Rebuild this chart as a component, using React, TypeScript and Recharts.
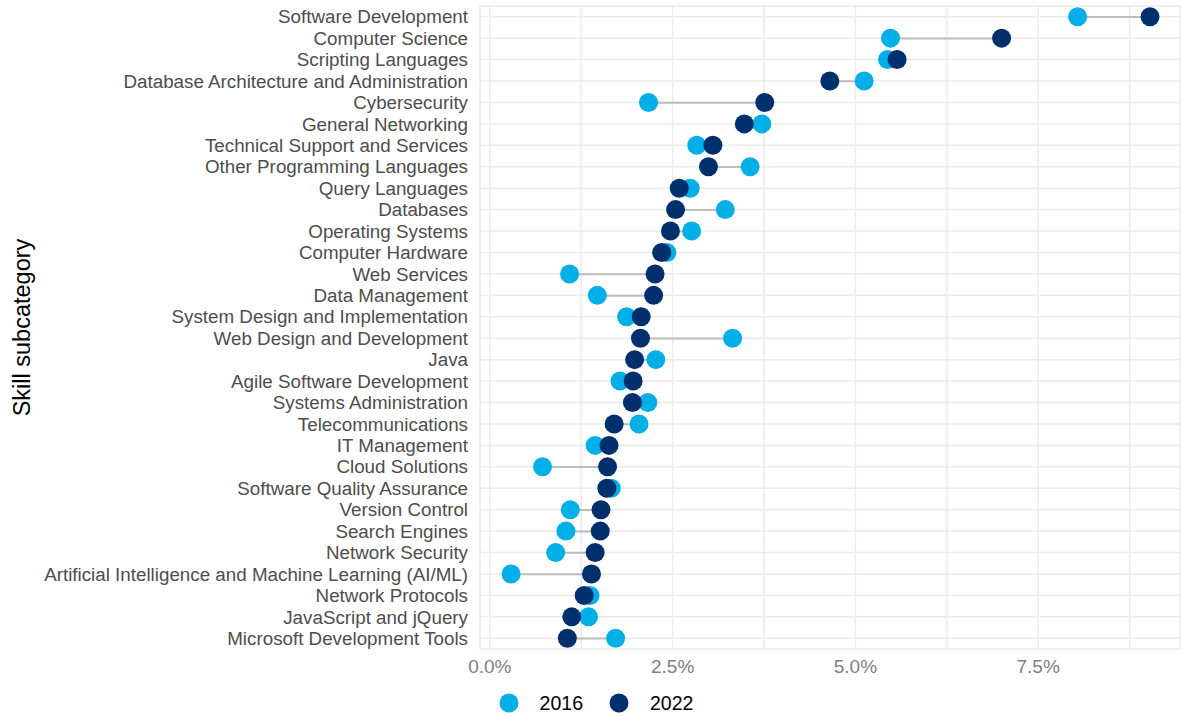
import {
  ComposedChart,
  Bar,
  Line,
  XAxis,
  YAxis,
  CartesianGrid,
  Legend,
} from 'recharts'

const skills = [
  'Software Development',
  'Computer Science',
  'Scripting Languages',
  'Database Architecture and Administration',
  'Cybersecurity',
  'General Networking',
  'Technical Support and Services',
  'Other Programming Languages',
  'Query Languages',
  'Databases',
  'Operating Systems',
  'Computer Hardware',
  'Web Services',
  'Data Management',
  'System Design and Implementation',
  'Web Design and Development',
  'Java',
  'Agile Software Development',
  'Systems Administration',
  'Telecommunications',
  'IT Management',
  'Cloud Solutions',
  'Software Quality Assurance',
  'Version Control',
  'Search Engines',
  'Network Security',
  'Artificial Intelligence and Machine Learning (AI/ML)',
  'Network Protocols',
  'JavaScript and jQuery',
  'Microsoft Development Tools',
]

// share of postings, in percent
const share2016 = [
  8.04, 5.48, 5.44, 5.12, 2.17, 3.72, 2.83, 3.56, 2.74, 3.22,
  2.76, 2.42, 1.09, 1.47, 1.87, 3.32, 2.27, 1.78, 2.16, 2.04,
  1.44, 0.72, 1.66, 1.1, 1.04, 0.9, 0.29, 1.37, 1.35, 1.72,
]

const share2022 = [
  9.03, 7.0, 5.57, 4.65, 3.76, 3.48, 3.05, 2.99, 2.59, 2.54,
  2.47, 2.35, 2.26, 2.24, 2.07, 2.06, 1.98, 1.96, 1.95, 1.7,
  1.63, 1.61, 1.6, 1.52, 1.51, 1.44, 1.39, 1.29, 1.12, 1.06,
]

const xTicks = [0, 1.25, 2.5, 3.75, 5, 6.25, 7.5, 8.75]

const years = ['2016', '2022']
const colors = ['#00aee8', '#002f6e']

const data = skills.map((name, i) => ({
  name,
  y2016: share2016[i],
  y2022: share2022[i],
  range: [
    Math.min(share2016[i], share2022[i]),
    Math.max(share2016[i], share2022[i]),
  ],
}))

function YearLegend() {
  return (
    <div
      style={{
        display: 'flex',
        justifyContent: 'center',
        gap: 26,
        height: 24,
        alignItems: 'center',
        paddingLeft: 12,
      }}
    >
      {years.map((y, i) => (
        <div key={y} style={{ display: 'flex', alignItems: 'center' }}>
          <svg width={20} height={20}>
            <circle cx={10} cy={10} r={9.5} fill={colors[i]} />
          </svg>
          <span style={{ marginLeft: 21, fontSize: 19.5, color: '#000', lineHeight: '24px' }}>{y}</span>
        </div>
      ))}
    </div>
  )
}

export default function App() {
  return (
    <div
      style={{
        position: 'absolute',
        top: 0,
        left: 0,
        fontFamily: '"Liberation Sans", Arial, sans-serif',
        background: '#fff',
      }}
    >
      <ComposedChart
        width={1189}
        height={717}
        data={data}
        layout="vertical"
        margin={{ top: 6, right: 9, bottom: 2, left: 0 }}
      >
        <CartesianGrid stroke="#ebebeb" strokeWidth={1.5} />
        <XAxis
          type="number"
          domain={[-0.135, 9.44]}
          ticks={xTicks}
          tickFormatter={(v) => (v % 2.5 === 0 ? `${v.toFixed(1)}%` : '')}
          axisLine={false}
          tickLine={false}
          tick={{ fontSize: 19, fill: '#7f7f7f' }}
          tickMargin={5}
          height={42}
        />
        <YAxis
          type="category"
          dataKey="name"
          width={480}
          axisLine={false}
          tickLine={false}
          interval={0}
          tick={{ fontSize: 18.8, fill: '#4d4d4d' }}
          tickMargin={6}
          label={{
            value: 'Skill subcategory',
            angle: -90,
            position: 'insideLeft',
            offset: 22,
            style: { fontSize: 23.5, fill: '#000', textAnchor: 'middle' },
          }}
        />
        <Legend verticalAlign="bottom" content={<YearLegend />} />
        <Bar dataKey="range" barSize={2} fill="#bdbdbd" isAnimationActive={false} />
        <Line
          dataKey="y2016"
          name="2016"
          stroke="none"
          dot={{ r: 9.5, fill: colors[0], stroke: 'none' }}
          activeDot={false}
          isAnimationActive={false}
        />
        <Line
          dataKey="y2022"
          name="2022"
          stroke="none"
          dot={{ r: 9.5, fill: colors[1], stroke: 'none' }}
          activeDot={false}
          isAnimationActive={false}
        />
      </ComposedChart>
    </div>
  )
}
